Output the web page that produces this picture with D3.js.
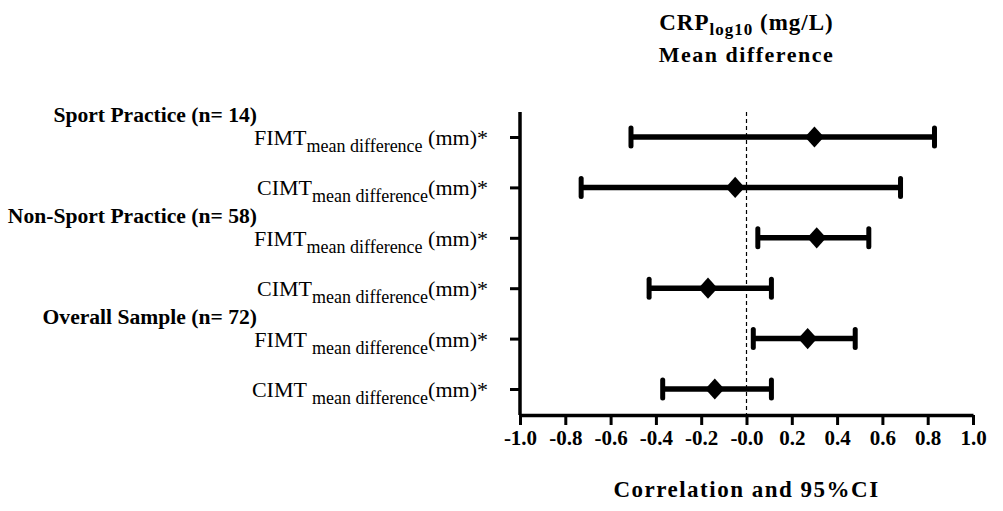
<!DOCTYPE html>
<html>
<head>
<meta charset="utf-8">
<script src="https://cdn.jsdelivr.net/npm/d3@7"></script>
<style>
  body { margin: 0; background: #fff; }
  svg { display: block; font-family: "Liberation Serif", "Times New Roman", serif; }
</style>
</head>
<body>
<div id="chart"></div>
<script>
// forest plot: CRP log10 vs IMT mean differences
var rowMain = ["FIMT", "CIMT", "FIMT", "CIMT", "FIMT ", "CIMT "];
var rowSub = ["mean difference", "mean difference", "mean difference", "mean difference", "mean difference", "mean difference"];
var rowTail = [" (mm)*", "(mm)*", " (mm)*", "(mm)*", "(mm)*", "(mm)*"];
var means = [0.30, -0.05, 0.31, -0.17, 0.27, -0.14];
var lower = [-0.51, -0.73, 0.05, -0.43, 0.03, -0.37];
var upper = [0.83, 0.68, 0.54, 0.11, 0.48, 0.11];
var groupLabels = ["Sport Practice (n= 14)", "Non-Sport Practice (n= 58)", "Overall Sample (n= 72)"];
var groupRow = [0, 2, 4];
var xTicks = [-1.0, -0.8, -0.6, -0.4, -0.2, 0.0, 0.2, 0.4, 0.6, 0.8, 1.0];

var width = 1003, height = 511;
var plotTop = 112, plotBottom = 415;

var svg = d3.select("#chart").append("svg")
    .attr("width", width)
    .attr("height", height);

var x = d3.scaleLinear().domain([-1, 1]).range([520, 973]);
var y = d3.scalePoint().domain(d3.range(rowMain.length)).range([137, 389]);

// x axis
var xAxis = svg.append("g")
    .attr("transform", "translate(0," + plotBottom + ")")
    .call(d3.axisBottom(x)
        .tickValues(xTicks)
        .tickSize(10)
        .tickSizeOuter(0)
        .tickPadding(5)
        .tickFormat(function (d) {
            if (Math.abs(d) < 1e-9) return "-0.0";
            return d.toFixed(1);
        }));
xAxis.select(".domain").attr("stroke-width", 3.5);
xAxis.selectAll(".tick line").attr("stroke-width", 3);
xAxis.selectAll(".tick text")
    .style("font-family", "Liberation Serif")
    .style("font-weight", "bold")
    .style("font-size", "21px")
    .attr("fill", "#000");

// y axis
var yAxis = svg.append("g")
    .attr("transform", "translate(" + x(-1) + ",0)")
    .call(d3.axisLeft(y).tickSize(10).tickSizeOuter(0).tickFormat(""));
yAxis.select(".domain")
    .attr("d", "M0," + plotTop + "V" + plotBottom)
    .attr("stroke-width", 3.5);
yAxis.selectAll(".tick line").attr("stroke-width", 3);

// zero line
svg.append("line")
    .attr("x1", x(0)).attr("x2", x(0))
    .attr("y1", plotTop).attr("y2", plotBottom)
    .attr("stroke", "#000")
    .attr("stroke-width", 1.2)
    .attr("stroke-dasharray", "4,3");

// CI bars
var rows = svg.append("g").selectAll("g")
    .data(d3.range(rowMain.length))
    .join("g");

rows.append("line")
    .attr("x1", function (i) { return x(lower[i]); })
    .attr("x2", function (i) { return x(upper[i]); })
    .attr("y1", function (i) { return y(i); })
    .attr("y2", function (i) { return y(i); })
    .attr("stroke", "#000")
    .attr("stroke-width", 5.5);

[lower, upper].forEach(function (arr) {
    rows.append("line")
        .attr("x1", function (i) { return x(arr[i]); })
        .attr("x2", function (i) { return x(arr[i]); })
        .attr("y1", function (i) { return y(i) - 9; })
        .attr("y2", function (i) { return y(i) + 9; })
        .attr("stroke", "#000")
        .attr("stroke-width", 5)
        .attr("stroke-linecap", "round");
});

// diamonds
rows.append("path")
    .attr("d", d3.symbol(d3.symbolSquare, 225))
    .attr("transform", function (i) {
        return "translate(" + x(means[i]) + "," + y(i) + ") scale(0.9,1) rotate(45)";
    })
    .attr("fill", "#000");

// row labels
var labels = svg.append("g").selectAll("text")
    .data(d3.range(rowMain.length))
    .join("text")
    .attr("x", 488)
    .attr("y", function (i) { return y(i) + 8; })
    .attr("text-anchor", "end")
    .style("font-size", "22px")
    .attr("fill", "#000");
labels.append("tspan").text(function (i) { return rowMain[i]; });
labels.append("tspan")
    .attr("dy", 7)
    .style("font-size", "18px")
    .text(function (i) { return rowSub[i]; });
labels.append("tspan")
    .attr("dy", -7)
    .text(function (i) { return rowTail[i]; });

// group labels
svg.append("g").selectAll("text")
    .data(groupLabels)
    .join("text")
    .attr("x", 257)
    .attr("y", function (d, i) { return y(groupRow[i]) - 15; })
    .attr("text-anchor", "end")
    .style("font-weight", "bold")
    .style("font-size", "21.6px")
    .text(function (d) { return d; });

// title
var title = svg.append("text")
    .attr("x", x(0))
    .attr("y", 30)
    .attr("text-anchor", "middle")
    .style("font-weight", "bold")
    .style("font-size", "23px")
    .style("letter-spacing", "1px");
title.append("tspan").text("CRP");
title.append("tspan").attr("dy", 5).style("font-size", "17px").text("log10");
title.append("tspan").attr("dy", -5).text(" (mg/L)");

svg.append("text")
    .attr("x", x(0))
    .attr("y", 62)
    .attr("text-anchor", "middle")
    .style("font-weight", "bold")
    .style("font-size", "22px")
    .style("letter-spacing", "1.5px")
    .text("Mean difference");

// x axis title
svg.append("text")
    .attr("x", x(0))
    .attr("y", 497)
    .attr("text-anchor", "middle")
    .style("font-weight", "bold")
    .style("font-size", "23px")
    .style("letter-spacing", "1.5px")
    .text("Correlation and 95%CI");
</script>
</body>
</html>
